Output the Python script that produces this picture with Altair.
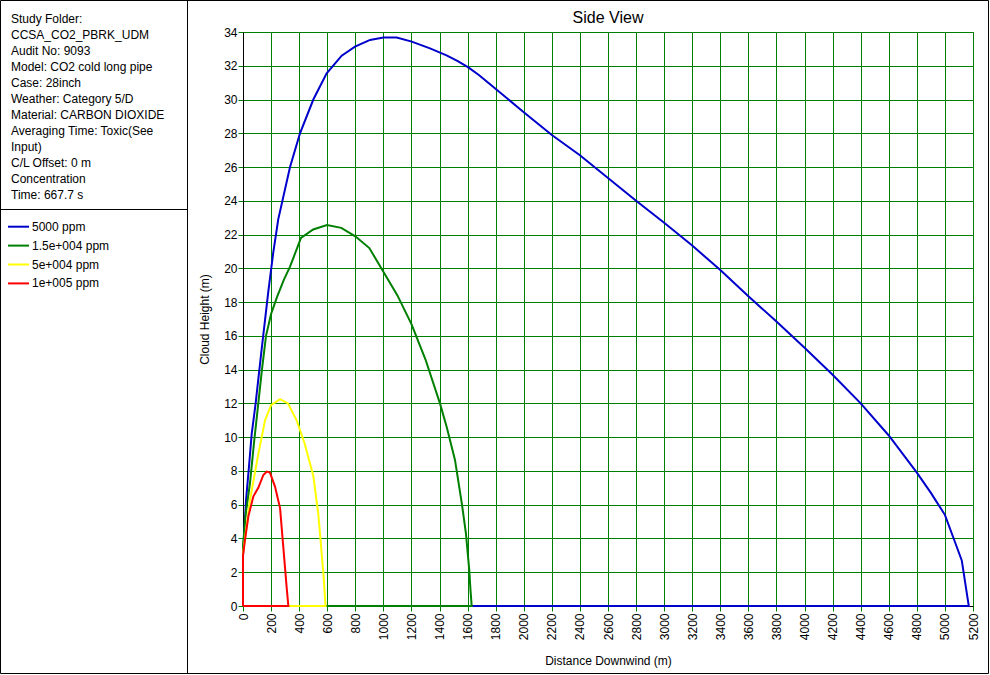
import altair as alt
import pandas as pd

FONT = "Liberation Sans"

# ---------------- data ----------------
series_names = ["5000 ppm", "1.5e+004 ppm", "5e+004 ppm", "1e+005 ppm"]
series_colors = ["#0000CC", "#008000", "#FFFF00", "#FF0000"]

dist_5000 = [0, 0, 10, 22, 45, 62, 90, 130, 180, 215, 251, 335, 406, 501, 596, 703, 798, 905, 1000,
             1095, 1202, 1332, 1450, 1530, 1605, 1680, 1760, 2000, 2200, 2400, 2600, 2800, 3000,
             3200, 3400, 3600, 3800, 4000, 4200, 4400, 4600, 4800, 4900, 5000, 5080, 5120, 5170, 0]
height_5000 = [0, 3.0, 4.5, 6.3, 8.5, 10.2, 12.0, 15.0, 18.6, 20.9, 22.9, 26.0, 28.0, 30.0, 31.55,
               32.6, 33.13, 33.53, 33.67, 33.67, 33.43, 33.03, 32.62, 32.28, 31.9, 31.45, 30.9,
               29.25, 27.9, 26.7, 25.35, 24.0, 22.7, 21.35, 19.9, 18.35, 16.85, 15.3, 13.7, 12.0,
               10.1, 7.9, 6.7, 5.4, 3.6, 2.7, 0, 0]

dist_15000 = [0, 0, 20, 50, 80, 109, 135, 164, 200, 242, 290, 335, 413, 500, 598, 700, 800, 900,
              1000, 1100, 1200, 1300, 1403, 1451, 1510, 1560, 1588, 1612, 1620, 1629, 0]
height_15000 = [0, 3.6, 5.5, 7.3, 9.8, 12.0, 14.0, 16.0, 17.3, 18.3, 19.3, 20.1, 21.8, 22.3, 22.57,
                22.4, 21.9, 21.2, 19.8, 18.4, 16.7, 14.6, 12.0, 10.6, 8.65, 6.0, 4.3, 2.1, 1.0, 0, 0]

dist_50000 = [0, 0, 50, 109, 157, 200, 264, 320, 382, 440, 501, 537, 572, 588, 0]
height_50000 = [0, 3.1, 6.3, 9.0, 11.0, 11.9, 12.25, 12.0, 11.0, 9.6, 7.7, 5.4, 2.0, 0, 0]

dist_100000 = [0, 0, 14, 38, 74, 109, 145, 169, 192, 228, 264, 287, 311, 323, 0]
height_100000 = [0, 3.0, 3.9, 5.3, 6.5, 7.0, 7.76, 7.96, 7.9, 7.07, 5.8, 3.5, 1.1, 0, 0]

info_lines = ["Study Folder:", "CCSA_CO2_PBRK_UDM", "Audit No: 9093", "Model: CO2 cold long pipe",
              "Case: 28inch", "Weather: Category 5/D", "Material: CARBON DIOXIDE",
              "Averaging Time: Toxic(See", "Input)", "C/L Offset: 0 m", "Concentration",
              "Time: 667.7 s"]

chart_title = "Side View"
x_title = "Distance Downwind (m)"
y_title = "Cloud Height (m)"

x_ticks = list(range(0, 5201, 200))
y_ticks = list(range(0, 35, 2))

# ---------------- build ----------------
all_d = [dist_5000, dist_15000, dist_50000, dist_100000]
all_h = [height_5000, height_15000, height_50000, height_100000]

# plot origin offsets in the 990x675 canvas
OX, OY = 243, 32
W, H = 730, 574

color_scale = alt.Scale(domain=series_names, range=series_colors)

x_axis = alt.Axis(values=x_ticks, format="d", labelAngle=270, labelAlign="right",
                  labelBaseline="middle", title=x_title, tickSize=5, labelPadding=2,
                  labelOverlap=False, labelFlush=False, titleY=58, titleBaseline="alphabetic")
y_axis = alt.Axis(values=y_ticks, format="d", title=y_title, tickSize=5, labelPadding=1,
                  labelOverlap=False, labelFlush=False, titleX=-35, titleY=H / 2,
                  titleAlign="center", titleBaseline="alphabetic", titleAngle=270)

x_scale = alt.Scale(domain=[0, 5200], nice=False, zero=False)
y_scale = alt.Scale(domain=[0, 34], nice=False)

layers = []
for name, d, h in zip(series_names, all_d, all_h):
    df = pd.DataFrame({"dist": d, "height": h, "ord": list(range(len(d))), "series": name})
    layers.append(alt.Chart(df).mark_line(strokeWidth=2, clip=False).encode(
        x=alt.X("dist:Q", scale=x_scale, axis=x_axis),
        y=alt.Y("height:Q", scale=y_scale, axis=y_axis),
        order="ord:Q",
        color=alt.Color("series:N", scale=color_scale, legend=None),
    ))

one = alt.Data(values=[{"a": 1}])

# frame / dividers
outer = alt.Chart(one).mark_rect(fill=None, stroke="black", strokeWidth=1).encode(
    x=alt.value(0.5 - OX), x2=alt.value(988.5 - OX), y=alt.value(0.5 - OY), y2=alt.value(673.5 - OY))
vdiv = alt.Chart(one).mark_rule(color="black", strokeWidth=1).encode(
    x=alt.value(187.5 - OX), y=alt.value(0 - OY), y2=alt.value(674 - OY))
hdiv = alt.Chart(one).mark_rule(color="black", strokeWidth=1).encode(
    x=alt.value(0 - OX), x2=alt.value(188 - OX), y=alt.value(209.5 - OY))

title_mark = alt.Chart(one).mark_text(text=chart_title, align="center", baseline="alphabetic",
                                      font=FONT, fontSize=16, color="black").encode(
    x=alt.value(W / 2), y=alt.value(23 - OY))

info = alt.Chart(one).mark_text(text=info_lines, lineHeight=16.05, align="left",
                                baseline="alphabetic", font=FONT, fontSize=12, color="black").encode(
    x=alt.value(11 - OX), y=alt.value(22.7 - OY))

leg_df = pd.DataFrame({"series": series_names, "idx": list(range(len(series_names)))})
leg_base = alt.Chart(leg_df).transform_calculate(py=f"{226.7 - OY} + 18.9 * datum.idx")
leg_lines = leg_base.mark_rule(strokeWidth=2).encode(
    x=alt.value(8 - OX), x2=alt.value(29 - OX), y=alt.Y("py:Q", scale=None),
    color=alt.Color("series:N", scale=color_scale, legend=None))
leg_text = leg_base.mark_text(align="left", baseline="middle", font=FONT, fontSize=12,
                              color="black").encode(
    x=alt.value(32 - OX), y=alt.Y("py:Q", scale=None), text="series:N")

chart = alt.layer(*layers, outer, vdiv, hdiv, title_mark, info, leg_lines, leg_text).properties(
    width=W, height=H,
    autosize=alt.AutoSizeParams(type="none"),
    padding={"left": OX, "top": OY, "right": 990 - OX - W, "bottom": 675 - OY - H},
    background="white",
).configure_view(
    stroke="black", strokeWidth=1
).configure_axis(
    grid=True, gridColor="#008000", gridOpacity=1, gridWidth=1,
    tickColor="#008000", domainColor="black", domainWidth=1,
    labelFont=FONT, labelFontSize=12, labelColor="black",
    titleFont=FONT, titleFontSize=12, titleFontWeight="normal", titleColor="black",
)

chart.save("out.html", embed_options={"renderer": "svg", "actions": False})
